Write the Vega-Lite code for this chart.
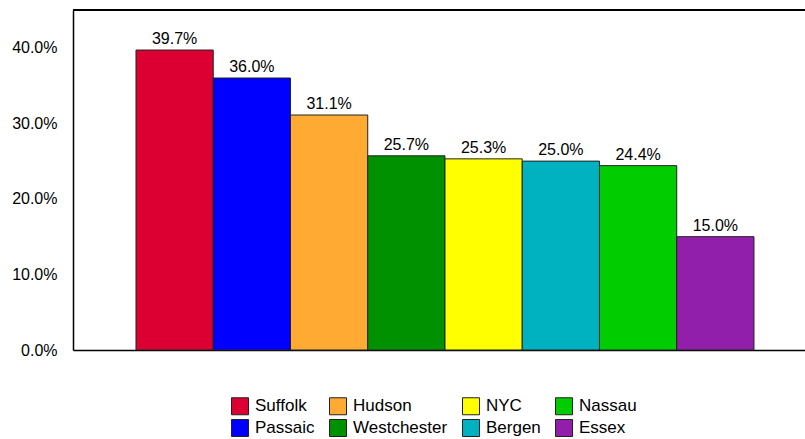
{
  "$schema": "https://vega.github.io/schema/vega-lite/v6.json",
  "autosize": "none",
  "padding": {"left": 73, "top": 10, "right": 0, "bottom": 89},
  "width": 732,
  "height": 340,
  "background": "white",
  "config": {
    "view": {"stroke": null},
    "font": "Liberation Sans",
    "text": {"font": "Liberation Sans"}
  },
  "data": {
    "values": [
      {"county": "Suffolk", "rate": 0.397},
      {"county": "Passaic", "rate": 0.360},
      {"county": "Hudson", "rate": 0.311},
      {"county": "Westchester", "rate": 0.257},
      {"county": "NYC", "rate": 0.253},
      {"county": "Bergen", "rate": 0.250},
      {"county": "Nassau", "rate": 0.244},
      {"county": "Essex", "rate": 0.150}
    ]
  },
  "encoding": {
    "y": {
      "field": "rate",
      "type": "quantitative",
      "scale": {"domain": [0, 0.45], "nice": false},
      "axis": {
        "title": null,
        "format": ".1%",
        "values": [0, 0.1, 0.2, 0.3, 0.4],
        "ticks": false,
        "grid": false,
        "labelPadding": 16,
        "labelFontSize": 16,
        "labelColor": "black",
        "domainColor": "black",
        "domainWidth": 1.5
      }
    }
  },
  "layer": [
    {
      "mark": {"type": "bar", "stroke": "#222222", "strokeWidth": 1},
      "encoding": {
        "x": {
          "field": "county",
          "type": "nominal",
          "sort": ["Suffolk", "Passaic", "Hudson", "Westchester", "NYC", "Bergen", "Nassau", "Essex"],
          "scale": {"paddingInner": 0, "paddingOuter": 0.738, "align": 0.5525},
          "axis": {"title": null, "labels": false, "ticks": false, "domainColor": "black", "domainWidth": 1.5}
        },
        "color": {
          "field": "county",
          "type": "nominal",
          "scale": {
            "domain": ["Suffolk", "Passaic", "Hudson", "Westchester", "NYC", "Bergen", "Nassau", "Essex"],
            "range": ["#DC0032", "#0000FF", "#FFAA33", "#009100", "#FFFF00", "#00B2C0", "#00CC00", "#921FAB"]
          },
          "legend": {
            "title": null,
            "orient": "none",
            "legendX": 158,
            "legendY": 387,
            "columns": 4,
            "columnPadding": 12,
            "rowPadding": 0,
            "symbolType": "square",
            "symbolSize": 289,
            "symbolStrokeColor": "#222222",
            "symbolStrokeWidth": 1,
            "labelFontSize": 17,
            "labelColor": "black",
            "labelOffset": 6
          }
        }
      }
    },
    {
      "mark": {"type": "text", "baseline": "bottom", "dy": -3, "fontSize": 16, "color": "black"},
      "encoding": {
        "x": {
          "field": "county",
          "type": "nominal",
          "sort": ["Suffolk", "Passaic", "Hudson", "Westchester", "NYC", "Bergen", "Nassau", "Essex"]
        },
        "text": {"field": "rate", "type": "quantitative", "format": ".1%"}
      }
    },
    {
      "mark": {"type": "rule", "color": "black", "strokeWidth": 1.5},
      "encoding": {"y": {"datum": 0.45}}
    }
  ]
}
